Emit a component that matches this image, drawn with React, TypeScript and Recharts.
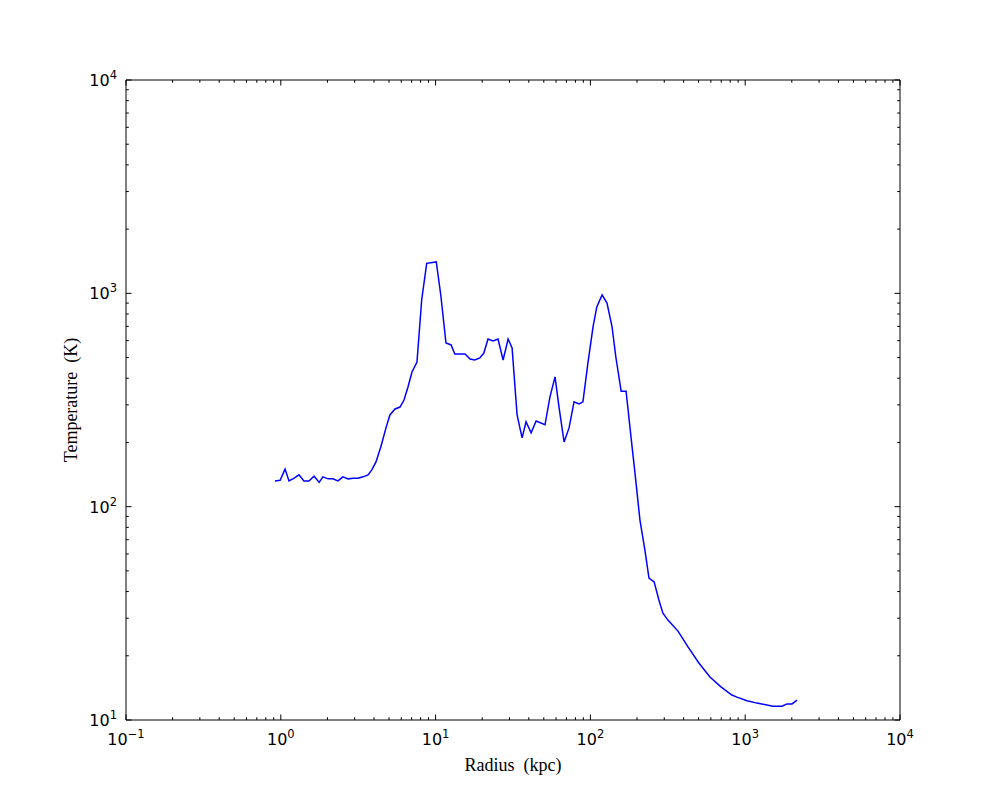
import React from 'react';
import { LineChart, Line, XAxis, YAxis, Label } from 'recharts';

const radius = [
  0.917, 0.99, 1.065, 1.13, 1.22, 1.31, 1.41, 1.52, 1.64, 1.77, 1.87, 2.02, 2.17, 2.34, 2.52, 2.72,
  2.93, 3.15, 3.4, 3.66, 3.88, 4.12, 4.44, 4.78, 5.07, 5.47, 5.89, 6.25, 6.63, 7.04, 7.58, 8.13,
  8.76, 10.1, 10.8, 11.67, 12.6, 13.3, 14.4, 15.5, 16.7, 17.9, 19.3, 20.5, 21.8, 23.5, 25.3, 27.3,
  29.4, 31.2, 33.6, 36.2, 38.4, 41.4, 44.6, 50.9, 54.8, 59.1, 62.7, 67.6, 72.8, 78.4, 84.4, 89.5,
  96.4, 104, 110, 119, 128, 138, 146, 158, 170, 183, 194, 209, 225, 239, 258, 277, 294, 317, 368,
  427, 502, 592, 697, 820, 885, 1026, 1191, 1512, 1729, 1862, 2006, 2162,
];

const temperature = [
  132, 133, 150, 132, 136, 141, 132, 132, 139, 130, 138, 135, 135, 132, 138, 135,
  136, 136, 138, 141, 149, 162, 192, 234, 269, 287, 293, 316, 364, 428, 476, 931,
  1383, 1403, 982, 585, 573, 520, 520, 520, 492, 487, 498, 525, 611, 598, 611, 487,
  611, 555, 269, 210, 250, 222, 252, 242, 327, 406, 293, 201, 234, 310, 303, 310,
  472, 696, 864, 983, 901, 696, 503, 348, 348, 212, 144, 86.5, 62.6, 46.3, 44.4, 36.5, 31.7, 29.4, 26.1,
  22.0, 18.5, 15.9, 14.3, 13.1, 12.8, 12.3, 12.0, 11.6, 11.6, 11.9, 11.9, 12.4,
];

const xDecades = [-1, 0, 1, 2, 3, 4];
const yDecades = [1, 2, 3, 4];
const minorMultipliers = [2, 3, 4, 5, 6, 7, 8, 9];

const buildTicks = (decades: number[]) => {
  const out: number[] = [];
  decades.forEach((d, i) => {
    out.push(Math.pow(10, d));
    if (i < decades.length - 1) {
      minorMultipliers.forEach((m) => out.push(m * Math.pow(10, d)));
    }
  });
  return out;
};

const xTicks = buildTicks(xDecades);
const yTicks = buildTicks(yDecades);

const data = radius.map((r, i) => ({ r, t: temperature[i] }));

const MAJOR = 5.5;
const MINOR = 2.8;
const AX = 20;
const FONT = '"DejaVu Sans", sans-serif';
const SERIF = '"Liberation Serif", "DejaVu Serif", serif';

const isMajor = (v: number) => {
  const l = Math.log10(v);
  return Math.abs(l - Math.round(l)) < 1e-6;
};
const expOf = (v: number) => {
  const e = Math.round(Math.log10(v));
  return e < 0 ? '\u2212' + Math.abs(e) : String(e);
};

const PowLabel = ({ v }: { v: number }) => (
  <>
    10
    <tspan fontSize={11.5} dy={-7}>
      {expOf(v)}
    </tspan>
  </>
);

const BottomTick = (props: any) => {
  const { x, y, payload } = props;
  const v = payload.value;
  const maj = isMajor(v);
  return (
    <g>
      <line x1={x} y1={y} x2={x} y2={y - (maj ? MAJOR : MINOR)} stroke="#000" strokeWidth={1} />
      {maj && (
        <text x={x} y={y + 24.5} textAnchor="middle" fontFamily={FONT} fontSize={16} fill="#000">
          <PowLabel v={v} />
        </text>
      )}
    </g>
  );
};

const TopTick = (props: any) => {
  const { x, y, payload } = props;
  const maj = isMajor(payload.value);
  return <line x1={x} y1={y} x2={x} y2={y + (maj ? MAJOR : MINOR)} stroke="#000" strokeWidth={1} />;
};

const LeftTick = (props: any) => {
  const { x, y, payload } = props;
  const v = payload.value;
  const maj = isMajor(v);
  return (
    <g>
      <line x1={x} y1={y} x2={x + (maj ? MAJOR : MINOR)} y2={y} stroke="#000" strokeWidth={1} />
      {maj && (
        <text x={x - 9} y={y + 6} textAnchor="end" fontFamily={FONT} fontSize={16} fill="#000">
          <PowLabel v={v} />
        </text>
      )}
    </g>
  );
};

const RightTick = (props: any) => {
  const { x, y, payload } = props;
  const maj = isMajor(payload.value);
  return <line x1={x} y1={y} x2={x - (maj ? MAJOR : MINOR)} y2={y} stroke="#000" strokeWidth={1} />;
};

const XLabel = (props: any) => {
  const vb = props.viewBox || {};
  return (
    <text
      x={vb.x + vb.width / 2}
      y={vb.y + 51}
      textAnchor="middle"
      fontFamily={SERIF}
      fontSize={18}
      fill="#000"
      style={{ whiteSpace: 'pre' }}
    >
      {'Radius  (kpc)'}
    </text>
  );
};

const YLabel = (props: any) => {
  const vb = props.viewBox || {};
  const cx = vb.x + vb.width - 49;
  const cy = vb.y + vb.height / 2;
  return (
    <text
      x={cx}
      y={cy}
      transform={`rotate(-90 ${cx} ${cy})`}
      textAnchor="middle"
      fontFamily={SERIF}
      fontSize={18}
      fill="#000"
      style={{ whiteSpace: 'pre' }}
    >
      {'Temperature  (K)'}
    </text>
  );
};

export default function App() {
  return (
    <LineChart
      width={1000}
      height={800}
      data={data}
      margin={{ top: 72 - AX, right: 108 - AX, bottom: 88 - AX, left: 118 - AX }}
      style={{ background: '#fff' }}
    >
      <XAxis
        xAxisId="b"
        dataKey="r"
        type="number"
        scale="log"
        domain={[0.1, 10000]}
        ticks={xTicks}
        interval={0}
        allowDataOverflow
        orientation="bottom"
        height={AX}
        tickSize={0}
        tickMargin={0}
        tickLine={false}
        axisLine={{ stroke: '#000', strokeWidth: 1 }}
        tick={(p: any) => <BottomTick {...p} />}
      >
        <Label content={(p: any) => <XLabel {...p} />} />
      </XAxis>
      <XAxis
        xAxisId="t"
        dataKey="r"
        type="number"
        scale="log"
        domain={[0.1, 10000]}
        ticks={xTicks}
        interval={0}
        allowDataOverflow
        orientation="top"
        height={AX}
        tickSize={0}
        tickMargin={0}
        tickLine={false}
        axisLine={{ stroke: '#000', strokeWidth: 1 }}
        tick={(p: any) => <TopTick {...p} />}
      />
      <YAxis
        yAxisId="l"
        dataKey="t"
        type="number"
        scale="log"
        domain={[10, 10000]}
        ticks={yTicks}
        interval={0}
        allowDataOverflow
        orientation="left"
        width={AX}
        tickSize={0}
        tickMargin={0}
        tickLine={false}
        axisLine={{ stroke: '#000', strokeWidth: 1 }}
        tick={(p: any) => <LeftTick {...p} />}
      >
        <Label content={(p: any) => <YLabel {...p} />} />
      </YAxis>
      <YAxis
        yAxisId="r"
        dataKey="t"
        type="number"
        scale="log"
        domain={[10, 10000]}
        ticks={yTicks}
        interval={0}
        allowDataOverflow
        orientation="right"
        width={AX}
        tickSize={0}
        tickMargin={0}
        tickLine={false}
        axisLine={{ stroke: '#000', strokeWidth: 1 }}
        tick={(p: any) => <RightTick {...p} />}
      />
      <Line
        xAxisId="b"
        yAxisId="l"
        dataKey="t"
        type="linear"
        stroke="#0000ff"
        strokeWidth={1.5}
        dot={false}
        isAnimationActive={false}
      />
    </LineChart>
  );
}
